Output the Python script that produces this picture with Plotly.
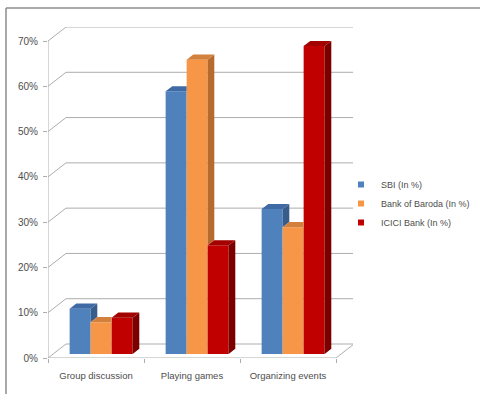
import plotly.graph_objects as go

# ---------------- data ----------------
categories = ["Group discussion", "Playing games", "Organizing events"]
series_names = ["SBI (In %)", "Bank of Baroda (In %)", "ICICI Bank (In %)"]
sbi = [10, 58, 32]
bob = [7, 65, 28]
icici = [8, 24, 68]
y_ticks = [0, 10, 20, 30, 40, 50, 60, 70]
y_tick_labels = ["0%", "10%", "20%", "30%", "40%", "50%", "60%", "70%"]

series_values = [sbi, bob, icici]
front_colors = ["#4F81BD", "#F79646", "#C00000"]
side_colors = ["#385D8A", "#B66A2E", "#7A0000"]
top_colors = ["#3F6AA3", "#D3803D", "#A30000"]

# ---------------- geometry ----------------
W, H = 480, 394
ML, MR, MT, MB = 48, 127, 27, 36
PW, PH = W - ML - MR, H - MT - MB
PX_X = 96.0                     # px per category
PX_Y = 317.0 / 70.0             # px per percent
DX = 18 / PX_X                  # wall depth in x units
DY = 14 / PX_Y                  # wall depth in y units
x_range = [-0.5, -0.5 + PW / PX_X]
y_range = [0, PH / PX_Y]

bar_w = 21 / PX_X
f_front = 4 / 14                # front plane of bars within depth
g_depth = 0.37                  # bar depth as fraction of wall depth
base = f_front * DY
shift = f_front * DX
ddx, ddy = g_depth * DX, g_depth * DY

grid_col = "#ADADAD"
text_col = "#4D4D4D"
FONT = "Liberation Sans"

fig = go.Figure()

# front faces as bars
for k, (name, vals) in enumerate(zip(series_names, series_values)):
    xs = [i + shift + (k - 1) * bar_w for i in range(len(categories))]
    fig.add_trace(go.Bar(
        x=xs, y=vals, base=[base] * len(vals), width=bar_w,
        name=name, marker=dict(color=front_colors[k], line=dict(width=0)),
        showlegend=False, hoverinfo="skip",
    ))

# side & top faces
for k, vals in enumerate(series_values):
    sx, sy, tx, ty = [], [], [], []
    for i, v in enumerate(vals):
        xc = i + shift + (k - 1) * bar_w
        Lx, Rx = xc - bar_w / 2, xc + bar_w / 2
        top = base + v
        nxt = base + series_values[k + 1][i] if k + 1 < len(series_values) else None
        if nxt is None or nxt < top:
            bot = base if nxt is None else max(base, nxt)
            sx += [Rx, Rx + ddx, Rx + ddx, Rx, Rx, None]
            sy += [bot, bot + ddy, top + ddy, top, bot, None]
            tx += [Lx, Rx, Rx + ddx, Lx + ddx, Lx, None]
            ty += [top, top, top + ddy, top + ddy, top, None]
        else:
            tx += [Lx, Rx, Rx, Lx + ddx, Lx, None]
            ty += [top, top, top + ddy, top + ddy, top, None]
    fig.add_trace(go.Scatter(x=sx, y=sy, mode="lines", fill="toself",
                             fillcolor=side_colors[k], line=dict(width=0),
                             showlegend=False, hoverinfo="skip"))
    fig.add_trace(go.Scatter(x=tx, y=ty, mode="lines", fill="toself",
                             fillcolor=top_colors[k], line=dict(width=0),
                             showlegend=False, hoverinfo="skip"))

# legend entries
for k, name in enumerate(series_names):
    fig.add_trace(go.Scatter(x=[None], y=[None], mode="markers", name=name,
                             marker=dict(symbol="square", size=6, color=front_colors[k]),
                             showlegend=True))

shapes = []
x0, x1 = -0.5, len(categories) - 0.5
for v in y_ticks:
    shapes.append(dict(type="line", xref="x", yref="y", x0=x0, y0=v, x1=x0 + DX, y1=v + DY,
                       line=dict(color=grid_col, width=1), layer="below"))
    shapes.append(dict(type="line", xref="x", yref="y", x0=x0 + DX, y0=v + DY, x1=x1 + DX, y1=v + DY,
                       line=dict(color=grid_col, width=1), layer="below"))
# floor front edge and right diagonal
shapes.append(dict(type="line", xref="x", yref="y", x0=x0, y0=0, x1=x1, y1=0,
                   line=dict(color=grid_col, width=1), layer="below"))
shapes.append(dict(type="line", xref="x", yref="y", x0=x1, y0=0, x1=x1 + DX, y1=DY,
                   line=dict(color=grid_col, width=1), layer="below"))
# vertical axis line
shapes.append(dict(type="line", xref="x", yref="y", x0=x0, y0=0, x1=x0, y1=y_ticks[-1],
                   line=dict(color=grid_col, width=1), layer="below"))


def px_x(p):
    return (p - ML) / PW


def px_y(p):
    return (H - MB - p) / PH


# outer chart frame (top and left edges)
shapes.append(dict(type="line", xref="paper", yref="paper", x0=px_x(6), y0=px_y(8),
                   x1=px_x(481), y1=px_y(8), line=dict(color="#8C8C8C", width=1.5)))
shapes.append(dict(type="line", xref="paper", yref="paper", x0=px_x(6), y0=px_y(8),
                   x1=px_x(6), y1=px_y(395), line=dict(color="#8C8C8C", width=1.5)))

fig.update_layout(
    width=W, height=H, autosize=False,
    margin=dict(l=ML, r=MR, t=MT, b=MB, pad=0, autoexpand=False),
    paper_bgcolor="white", plot_bgcolor="rgba(0,0,0,0)",
    barmode="overlay",
    shapes=shapes,
    font=dict(family=FONT, size=10, color=text_col),
    legend=dict(x=px_x(341), y=px_y(170), xanchor="left", yanchor="top",
                font=dict(family=FONT, size=9, color=text_col),
                bgcolor="rgba(0,0,0,0)", itemwidth=30, tracegroupgap=0),
    xaxis=dict(range=x_range, showgrid=False, zeroline=False, showline=False,
               tickmode="array", tickvals=list(range(len(categories))), ticktext=categories,
               ticks="", tickfont=dict(size=9.5, color=text_col), ticklabelstandoff=10,
               minor=dict(tickmode="array", tickvals=[x0 + i for i in range(len(categories) + 1)],
                          ticks="outside", ticklen=4, tickcolor=grid_col, tickwidth=1),
               fixedrange=True),
    yaxis=dict(range=y_range, showgrid=False, zeroline=False, showline=False,
               tickmode="array", tickvals=y_ticks, ticktext=y_tick_labels,
               ticks="outside", ticklen=4, tickcolor=grid_col, tickwidth=1,
               ticklabelstandoff=3, tickfont=dict(size=10, color=text_col),
               fixedrange=True),
)

fig.write_html("out.html")
